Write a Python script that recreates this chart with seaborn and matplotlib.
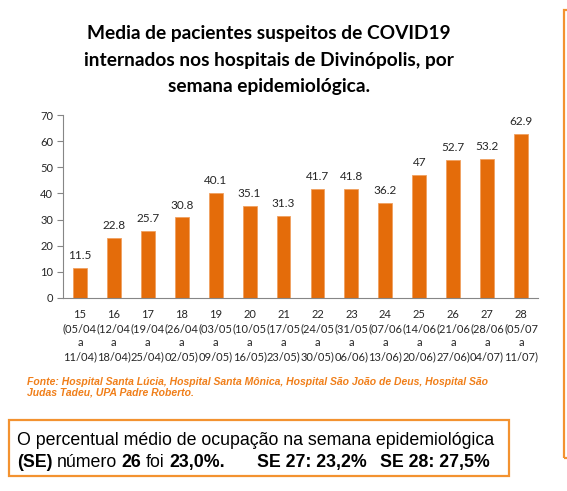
import matplotlib
matplotlib.use("Agg")
import matplotlib.pyplot as plt
import seaborn as sns
import pandas as pd
from matplotlib.patches import Rectangle

weeks = ["15", "16", "17", "18", "19", "20", "21", "22", "23", "24", "25", "26", "27", "28"]
starts = ["05/04", "12/04", "19/04", "26/04", "03/05", "10/05", "17/05", "24/05", "31/05",
          "07/06", "14/06", "21/06", "28/06", "05/07"]
ends = ["11/04", "18/04", "25/04", "02/05", "09/05", "16/05", "23/05", "30/05", "06/06",
        "13/06", "20/06", "27/06", "04/07", "11/07"]
values = [11.5, 22.8, 25.7, 30.8, 40.1, 35.1, 31.3, 41.7, 41.8, 36.2, 47, 52.7, 53.2, 62.9]
value_labels = ["11.5", "22.8", "25.7", "30.8", "40.1", "35.1", "31.3", "41.7", "41.8",
                "36.2", "47", "52.7", "53.2", "62.9"]
yticks = [0, 10, 20, 30, 40, 50, 60, 70]

title = "Media de pacientes suspeitos de COVID19\ninternados nos hospitais de Divinópolis, por\nsemana epidemiológica."
source = ("Fonte: Hospital Santa Lúcia, Hospital Santa Mônica, Hospital São João de Deus, Hospital São\n"
          "Judas Tadeu, UPA Padre Roberto.")
box_line1 = "O percentual médio de ocupação na semana epidemiológica"
box_pieces = [("(SE)", "bold"), ("número", "normal"), ("26", "bold"), ("foi", "normal"),
              ("23,0%.", "bold")]
box_se27 = "SE 27: 23,2%"
box_se28 = "SE 28: 27,5%"

BAR = "#E46C0A"
ORANGE = "#F39230"
TXT = "#262626"

sns.set_theme(style="white")
plt.rcParams["font.family"] = ["Lato", "DejaVu Sans"]

cats = [f"{w}\n({s}\na\n{e})" for w, s, e in zip(weeks, starts, ends)]
df = pd.DataFrame({"cat": cats, "val": values})

W, H = 567, 491
fig = plt.figure(figsize=(W / 100, H / 100), dpi=100)
ax = fig.add_axes([63 / W, 1 - 298 / H, (538 - 63) / W, (298 - 115) / H])

sns.barplot(data=df, x="cat", y="val", order=cats, color=BAR, saturation=1,
            width=0.41, ax=ax, edgecolor="#F0A060", linewidth=0.6)

for i, (v, lab) in enumerate(zip(values, value_labels)):
    ax.annotate(lab, xy=(i, v), xytext=(0, 5), textcoords="offset points",
                ha="center", va="bottom", fontsize=8.5, color=TXT)

ax.set_ylim(0, 70)
ax.set_xlim(-0.5, len(cats) - 0.5)
ax.set_yticks(yticks)
ax.set_yticklabels([str(t) for t in yticks], fontsize=8, color=TXT)
ax.set_xticks(range(len(cats)))
ax.set_xticklabels(cats, fontsize=8, color=TXT, linespacing=1.35)
ax.set_xticks([i - 0.5 for i in range(len(cats) + 1)], minor=True)
ax.tick_params(axis="x", which="major", length=0, pad=8)
ax.tick_params(axis="x", which="minor", length=4, color="#868686", width=0.8, direction="out")
ax.tick_params(axis="y", length=4, color="#868686", width=0.8, direction="out", left=True, pad=3)
ax.set_xlabel("")
ax.set_ylabel("")
for s in ["top", "right"]:
    ax.spines[s].set_visible(False)
for s in ["left", "bottom"]:
    ax.spines[s].set_color("#868686")
    ax.spines[s].set_linewidth(0.8)

fig.text(269 / W, 1 - 25 / H, title, ha="center", va="top", fontsize=13.8, fontweight="bold",
         color="#000000", linespacing=1.68)

fig.text(27 / W, 1 - 377 / H, source, ha="left", va="top", fontsize=7.5, fontweight="bold",
         style="italic", color="#F07F1A", family=["Liberation Sans", "DejaVu Sans"], linespacing=1.05)

# box with text
fig.patches.append(Rectangle((9 / W, 1 - 476 / H), (509 - 9) / W, (476 - 420) / H,
                             transform=fig.transFigure, fill=False, edgecolor=ORANGE, linewidth=1.6))
# partial right panel border
fig.patches.append(Rectangle((564 / W, 1 - 458 / H), 30 / W, (458 - 10) / H,
                             transform=fig.transFigure, fill=False, edgecolor=ORANGE, linewidth=1.6,
                             clip_on=False))

fam = ["Liberation Sans", "DejaVu Sans"]
fs = 12.8
fig.text(17 / W, 1 - 445 / H, box_line1, ha="left", va="baseline", fontsize=fs,
         family=fam, color="#000000")

renderer = fig.canvas.get_renderer()
gap = 4.5
x = 17.0
y2 = 1 - 467 / H
for txt, wt in box_pieces:
    t = fig.text(x / W, y2, txt, ha="left", va="baseline", fontsize=fs, family=fam,
                 fontweight=wt, color="#000000")
    ext = t.get_window_extent(renderer)
    x = ext.x1 + gap
fig.text(257 / W, y2, box_se27, ha="left", va="baseline", fontsize=fs, family=fam,
         fontweight="bold", color="#000000")
fig.text(380 / W, y2, box_se28, ha="left", va="baseline", fontsize=fs, family=fam,
         fontweight="bold", color="#000000")

fig.savefig("out.png", dpi=100)
